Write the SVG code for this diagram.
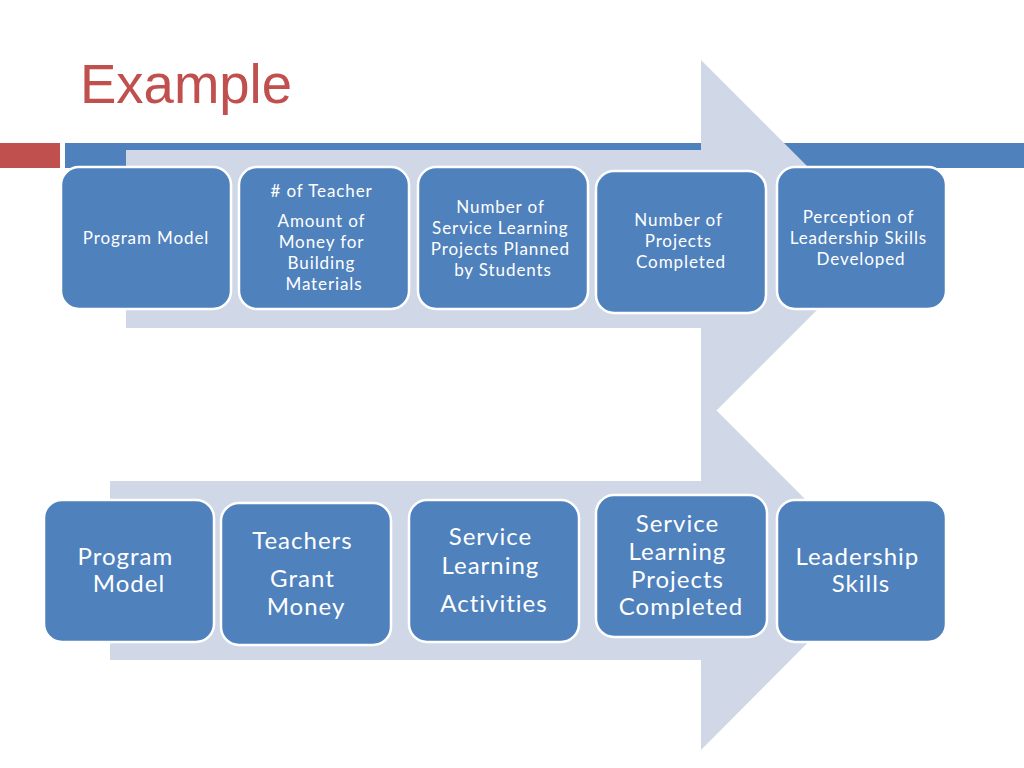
<svg xmlns="http://www.w3.org/2000/svg" width="1024" height="768" viewBox="0 0 1024 768">
<style>
.box{fill:#4F81BD;stroke:#FFFFFF;stroke-width:2.5}
.arrow{fill:#D0D8E8}
.t{font-family:"Lato","Liberation Sans",sans-serif;fill:#FFFFFF;text-anchor:middle}
.s{font-size:17px;letter-spacing:0.9px}
.b{font-size:24px;letter-spacing:1px}
.title{font-family:"Liberation Sans",sans-serif;font-size:55px;fill:#C0504D}
</style>
<rect width="1024" height="768" fill="#FFFFFF"/>
<text class="title" x="80" y="103" textLength="212" lengthAdjust="spacingAndGlyphs">Example</text>
<rect x="0" y="143" width="60" height="25" fill="#C0504D"/>
<rect x="65" y="143" width="959" height="25" fill="#4F81BD"/>
<g id="connectors">
<path class="arrow" d="M126,150 H701 V60 L884,243 L701,426 V328 H126 Z"/>
<path class="arrow" d="M110,481 H701 V395 L878,572 L701,750 V660 H110 Z"/>
</g>
<g id="top1"><rect class="box" x="61" y="167" width="170" height="142" rx="18"/>
<text class="t s" x="146" y="244">Program Model</text></g>
<g id="top2"><rect class="box" x="239" y="167" width="170" height="142" rx="18"/>
<text class="t s">
<tspan x="324" y="197"># of Teacher</tspan>
<tspan x="324" y="227">Amount of</tspan>
<tspan x="324" y="248">Money for</tspan>
<tspan x="324" y="269">Building</tspan>
<tspan x="324" y="290">Materials</tspan></text></g>
<g id="top3"><rect class="box" x="418" y="167" width="170" height="142" rx="18"/>
<text class="t s">
<tspan x="503" y="213">Number of</tspan>
<tspan x="503" y="234">Service Learning</tspan>
<tspan x="503" y="255">Projects Planned</tspan>
<tspan x="503" y="276">by Students</tspan></text></g>
<g id="top4"><rect class="box" x="596" y="171" width="170" height="142" rx="18"/>
<text class="t s">
<tspan x="681" y="226">Number of</tspan>
<tspan x="681" y="247">Projects</tspan>
<tspan x="681" y="268">Completed</tspan></text></g>
<g id="top5"><rect class="box" x="777" y="167" width="169" height="142" rx="18"/>
<text class="t s">
<tspan x="861" y="223">Perception of</tspan>
<tspan x="861" y="244">Leadership Skills</tspan>
<tspan x="861" y="265">Developed</tspan></text></g>
<g id="bot1"><rect class="box" x="44" y="500" width="170" height="142" rx="18"/>
<text class="t b">
<tspan x="129" y="565">Program</tspan>
<tspan x="129" y="592">Model</tspan></text></g>
<g id="bot2"><rect class="box" x="221" y="503" width="170" height="142" rx="18"/>
<text class="t b">
<tspan x="306" y="549">Teachers</tspan>
<tspan x="306" y="587">Grant</tspan>
<tspan x="306" y="615">Money</tspan></text></g>
<g id="bot3"><rect class="box" x="409" y="500" width="170" height="142" rx="18"/>
<text class="t b">
<tspan x="494" y="545">Service</tspan>
<tspan x="494" y="574">Learning</tspan>
<tspan x="494" y="612">Activities</tspan></text></g>
<g id="bot4"><rect class="box" x="596" y="495" width="171" height="142" rx="18"/>
<text class="t b">
<tspan x="681" y="532">Service</tspan>
<tspan x="681" y="560">Learning</tspan>
<tspan x="681" y="588">Projects</tspan>
<tspan x="681" y="615">Completed</tspan></text></g>
<g id="bot5"><rect class="box" x="777" y="500" width="169" height="142" rx="18"/>
<text class="t b">
<tspan x="861" y="565">Leadership</tspan>
<tspan x="861" y="592">Skills</tspan></text></g>
</svg>
